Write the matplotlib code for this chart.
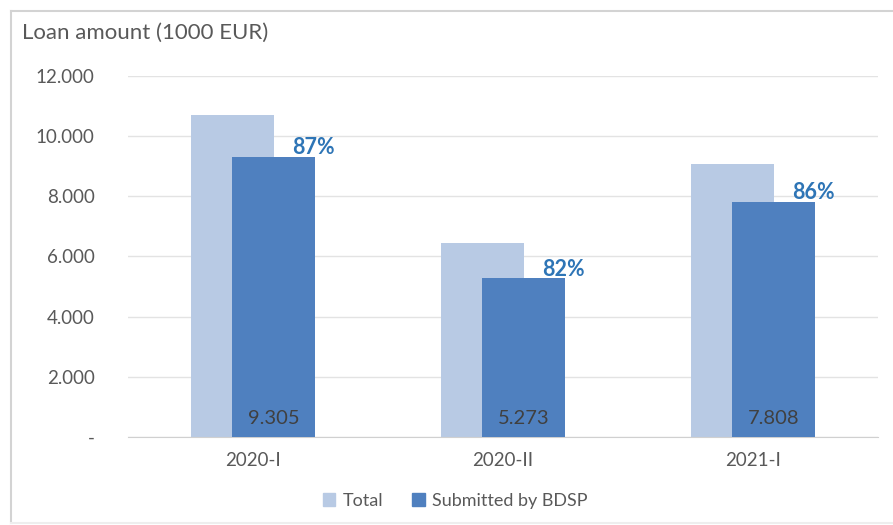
import matplotlib.pyplot as plt
from matplotlib.lines import Line2D
from matplotlib.patches import Patch
from matplotlib.ticker import FuncFormatter

plt.rcParams['font.family'] = ['Lato', 'DejaVu Sans']

# data
periods = ['2020-I', '2020-II', '2021-I']
total = [10700, 6430, 9060]
submitted = [9305, 5273, 7808]
shares = ['87%', '82%', '86%']
value_labels = ['9.305', '5.273', '7.808']

light = '#b8cae4'
dark = '#4f80bf'
grey_txt = '#595959'

fig = plt.figure(figsize=(8.93, 5.25), dpi=100)
ax = fig.add_axes([0.1433, 0.1676, 0.84, 0.6882])

x = list(range(len(periods)))
w = 0.332
off = 0.082
ax.bar([i - off for i in x], total, width=w, color=light, zorder=2)
ax.bar([i + off for i in x], submitted, width=w, color=dark, zorder=3)

for i in x:
    ax.text(i + off + 0.16, submitted[i] - 50, shares[i], ha='center', va='bottom',
            color='#2e75b6', fontsize=15.5, fontweight='bold', zorder=4)
    ax.text(i + off, 630, value_labels[i], ha='center', va='center',
            color='#404040', fontsize=14.5, zorder=4)

ax.set_xlim(-0.5, 2.5)
ax.set_ylim(0, 12000)
ax.set_yticks(range(0, 12001, 2000))

def fmt(v, pos):
    if v == 0:
        return '-'
    return f'{int(v):,}'.replace(',', '.')

ax.yaxis.set_major_formatter(FuncFormatter(fmt))
ax.set_xticks(x)
ax.set_xticklabels(periods)
ax.tick_params(axis='y', length=0, colors=grey_txt, labelsize=13.5, pad=24)
ax.tick_params(axis='x', length=0, colors=grey_txt, labelsize=13.5, pad=11)
ax.grid(axis='y', color='#e3e3e3', lw=1, zorder=0)
for s in ['top', 'right', 'left']:
    ax.spines[s].set_visible(False)
ax.spines['bottom'].set_color('#d0d0d0')

fig.text(22 / 893, 1 - 33 / 525, 'Loan amount (1000 EUR)', ha='left', va='center',
         color=grey_txt, fontsize=16)

handles = [Patch(color=light, label='Total'), Patch(color=dark, label='Submitted by BDSP')]
fig.legend(handles=handles, loc='center', bbox_to_anchor=(455 / 893, 1 - 501 / 525),
           ncol=2, frameon=False, fontsize=13, labelcolor=grey_txt,
           handlelength=0.7, handleheight=0.7, handletextpad=0.4, columnspacing=1.6)

# outer chart frame
frame_col = '#d3d3d3'
x0, y0, y1 = 11 / 893, 2 / 525, 1 - 11 / 525
fig.add_artist(Line2D([x0, x0], [y0, y1], transform=fig.transFigure, color=frame_col, lw=1.5))
fig.add_artist(Line2D([x0, 1], [y1, y1], transform=fig.transFigure, color=frame_col, lw=1.5))
fig.add_artist(Line2D([x0, 1], [y0, y0], transform=fig.transFigure, color='#eeeeee', lw=1.5))

fig.savefig('out.png', dpi=100)
